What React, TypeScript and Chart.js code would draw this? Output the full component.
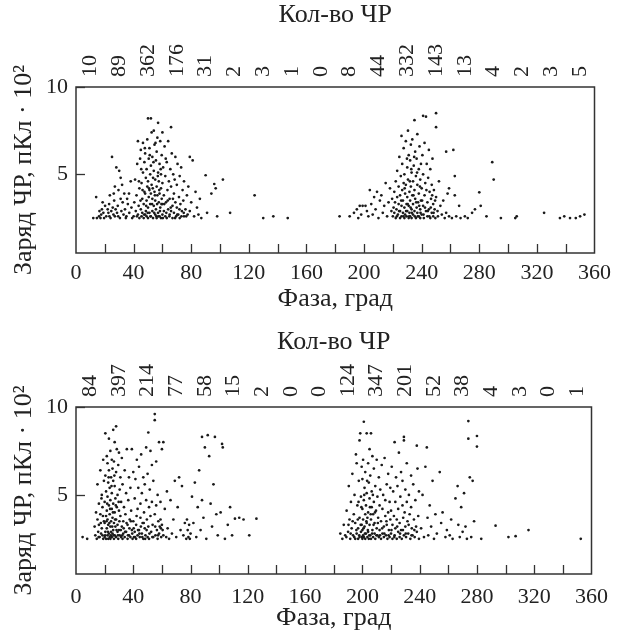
import React, { useEffect, useRef } from "react";
import { Chart, registerables } from "chart.js";

Chart.register(...registerables);

// ---------- data ----------
const phaseLabels = [0, 40, 80, 120, 160, 200, 240, 280, 320, 360];
const phaseMinorTicks = [20, 40, 60, 80, 100, 120, 140, 160, 180, 200, 220, 240, 260, 280, 300, 320, 340];
const chargeTicks = [5, 10];
const binWidth = 20;

const topCounts = [10, 89, 362, 176, 31, 2, 3, 1, 0, 8, 44, 332, 143, 13, 4, 2, 3, 5];
const bottomCounts = [84, 397, 214, 77, 58, 15, 2, 0, 0, 124, 347, 201, 52, 38, 4, 3, 0, 1];

const topLeftPoints: [number, number][] = [
  [12,2.5],[14,3.7],[14.5,2.5],[16,2.6],[17,2.5],[17.5,2.7],[18,3.0],[18.5,3.4],[19,2.8],[19.5,2.5],
  [21,2.6],[22,3.0],[22.5,2.8],[23,3.3],[23.5,3.8],[24,2.5],[24.5,2.9],[25,6.0],[25.5,3.1],[26,2.7],[26.5,3.5],[27,2.6],[27,4.3],[27.5,3.0],[28,5.4],[28.5,2.8],[29,3.2],[29.5,4.1],[30,5.2],[30.5,2.5],[31,3.6],[31,4.8],[31.5,2.9],[32,4.4],[33,2.7],[33.5,3.9],[34,3.0],[35,2.6],[35.5,3.6],[36,3.3],[37,2.8],[38,4.6],[38.5,3.1],[39,2.5],
  [40,2.6],[40.5,3.4],[41,4.7],[41.5,2.9],[42,3.8],[42.5,5.6],[43,6.9],[43,2.7],[43.5,3.2],[44,4.2],[44,2.5],[44.5,5.9],[45,3.0],[45,6.4],[45.5,2.6],[45.5,4.5],[46,3.6],[46,2.8],[46.5,5.1],[46.5,6.8],[47,2.5],[47,3.3],[47.5,4.0],[47.5,5.7],[48,2.7],[48,3.9],[48,6.2],[48.5,2.9],[48.5,4.8],[49,2.6],[49,3.5],[49,5.3],[49.5,4.3],[49.5,7.0],[50,8.2],[50,2.5],[50,3.1],[50,4.6],[50.5,5.9],[50.5,3.7],[51,2.8],[51,4.1],[51,6.5],[51.5,3.3],[51.5,5.0],[52,8.2],[52,2.6],[52,3.9],[52,5.5],[52.5,4.4],[52.5,7.4],[53,2.9],[53,3.6],[53,6.0],[53.5,4.8],[53.5,2.5],[54,7.5],[54,3.2],[54,5.2],[54.5,4.0],[54.5,6.7],[55,2.7],[55,3.5],[55,4.7],[55.5,5.8],[55.5,3.0],[56,2.5],[56,4.3],[56,6.3],[56.5,3.8],[56.5,7.1],[57,7.95],[57,2.8],[57,5.1],[57.5,3.4],[57.5,4.6],[58,2.6],[58,5.6],[58,3.9],[58.5,6.9],[58.5,3.1],[59,4.2],[59,2.5],[59,5.0],[59.5,3.6],[59.5,6.1],[60,7.4],[60,2.7],[60,4.5],[60,3.3],
  [60.5,5.4],[61,2.9],[61,3.8],[61.5,6.6],[62,2.6],[62,4.9],[62.5,3.4],[63,5.7],[63,2.5],[63.5,4.1],[64,3.0],[64,6.9],[64.5,4.6],[65,2.7],[65,3.6],[65.5,5.3],[66,7.7],[66,2.9],[66,4.3],[66.5,6.2],[67,3.2],[67,2.5],[67.5,5.0],[68,3.9],[68,2.8],[68.5,4.7],[69,3.4],[69,6.0],[69.5,2.6],[70,4.4],[70,3.1],[70.5,5.6],[71,2.7],[71.5,3.7],[72,4.9],[72,2.5],[72.5,3.3],[73,5.4],[73.5,2.9],[74,4.1],[74.5,3.5],[75,2.6],[75,4.6],[76,3.0],[77,3.8],[77.5,2.7],[78,4.3],[79,6.0],[79,2.9],
  [80,3.4],[81,5.8],[82,2.6],[83,4.0],[84,3.1],[85,2.7],[86,3.6],[87,2.5],[90,4.95],[91,2.8],[94,3.9],[96,4.45],[97,4.2],[98,2.6],
  [102,4.7],[107,2.8],[124,3.8],[130,2.5],[137,2.6],[147,2.5],
  // extra density in the main cloud
  [16.3,2.9],[20.2,3.2],[23.2,2.6],[26.2,3.9],[29.3,2.6],[32.4,3.4],[34.6,2.5],[36.8,3.9],[42.3,2.6],[43.7,4.6],[44.8,3.5],[46.2,4.1],[47.3,2.7],[48.7,3.2],[49.8,2.8],[50.7,4.2],[51.7,2.6],[52.8,3.3],[53.3,4.2],[54.3,2.8],[54.8,3.8],[55.8,2.6],[56.3,3.3],[57.2,2.6],[57.8,4.1],[58.3,2.9],[59.3,3.3],[60.3,2.5],[61.3,3.3],[62.7,2.8],[63.7,3.5],[64.8,2.6],[65.8,3.1],[67.3,3.6],[68.8,2.5],[70.3,2.7],[71.8,3.0],[73.2,2.6],[74.8,2.8],[76.5,2.6],[53.8,5.7],[51.2,6.1],[55.2,6.8],[58.8,5.3],[47.8,6.5],[62.3,5.9],[45.3,5.3],[56.8,4.9],
];

const topRightPoints: [number, number][] = [
  [183,2.6],[190,2.6],[193,2.8],[195,3.0],[196,2.5],[197,3.2],[198,2.7],[199,3.2],
  [201,3.2],[202,2.9],[203,2.6],[204,4.1],[205,3.3],[206,2.7],[207,3.7],[208,3.0],[209,4.0],[210,2.5],[211,3.5],[212,3.8],[213,2.8],[214,3.2],[215,4.5],[216,2.6],[217,3.4],[218,4.2],[219,2.9],[219.5,3.6],
  [220,2.6],[220.5,3.1],[221,2.8],[221,4.0],[221.5,3.4],[222,2.5],[222,4.6],[222.5,3.0],[223,3.7],[223,5.2],[223.5,2.7],[224,3.3],[224,4.3],[224.5,6.0],[225,2.5],[225,2.9],[225,3.8],[225.5,4.9],[226,7.2],[226,3.2],[226,2.6],[226.5,4.1],[226.5,5.6],[227,2.8],[227,3.5],[227.5,4.5],[227.5,6.5],[228,2.5],[228,3.1],[228,5.0],[228.5,3.9],[228.5,2.7],[229,4.4],[229,6.9],[229.5,3.3],[229.5,2.6],[230,5.4],[230,2.9],[230,3.7],[230.5,4.7],[230.5,7.5],[231,2.5],[231,3.2],[231,6.1],[231.5,4.0],[231.5,2.8],[232,5.8],[232,3.5],[232,2.6],[232.5,4.3],[232.5,6.7],[233,3.0],[233,2.5],[233,5.1],[233.5,3.8],[233.5,7.0],[234,2.7],[234,4.6],[234,3.3],[234.5,5.5],[235,8.1],[235,2.9],[235,4.1],[235.5,3.6],[235.5,6.3],[236,2.5],[236,4.9],[236.5,3.1],[236.5,5.9],[237,2.8],[237,4.4],[237,7.3],[237.5,3.4],[238,2.6],[238,5.3],[238,3.9],[238.5,6.6],[239,3.0],[239,4.7],[239,2.5],[239.5,5.6],[239.5,3.5],
  [240,2.7],[240,4.2],[240.5,6.1],[241,8.35],[241,3.2],[241,5.0],[241.5,2.5],[242,3.8],[242,6.8],[242.5,4.5],[243,8.3],[243,2.9],[243.5,5.6],[244,3.4],[244,2.6],[244.5,4.8],[245,6.4],[245,3.0],[245.5,4.0],[246,2.5],[246,5.3],[246.5,3.6],[247,4.4],[247,2.8],[247.5,5.9],[248,3.3],[248,2.6],[248.5,4.1],[249,3.0],[249.5,2.5],[250,8.5],[250,7.7],[250,3.7],[251,2.9],[252,4.6],[253,3.2],[254,2.7],[255,3.5],[256,2.5],[257,6.3],[257,2.8],[258,3.9],[259,2.6],[259,4.2],
  [261,2.5],[262,6.4],[263,4.9],[263,3.8],[264,2.6],[266,3.2],[267,2.5],[270,2.6],[272,2.5],[275,2.8],[277,3.0],[280,3.97],[281,3.2],
  [285,2.6],[289,5.7],[290,4.7],[295,2.5],[305,2.5],[306,2.6],[325,2.8],[336,2.5],[339,2.6],[343,2.5],[347,2.5],[350,2.6],[353,2.7],
  // extra density in the main cloud
  [222.8,2.6],[224.3,2.9],[225.8,3.5],[227.3,2.6],[228.2,4.2],[229.2,2.9],[230.3,3.3],[231.3,2.6],[232.3,3.1],[233.2,2.8],[234.3,3.8],[235.2,2.6],[236.2,3.4],[237.3,2.6],[238.3,3.2],[239.2,2.8],[240.3,3.5],[241.3,2.7],[242.3,3.1],[243.3,4.1],[244.3,2.9],[245.3,2.6],[246.3,3.1],[247.3,3.8],[248.3,2.8],[249.3,3.5],[251.3,2.6],[229.8,5.9],[232.8,5.3],[234.8,6.0],[236.8,5.1],[238.8,4.3],[231.8,4.6],
];

const bottomLeftPoints: [number, number][] = [
  [4.6,2.6],[7.8,2.5],[13,3.2],[13.5,2.7],[14,4.0],[14.5,2.5],[15,3.6],[15,5.6],[15.5,2.9],[16,4.5],[16,3.3],[16.5,2.6],[17,6.4],[17,3.9],[17.5,2.8],[17.8,4.8],[18,5.0],[18,3.1],[18.5,4.3],[18.5,2.7],[19,2.5],[19,7.0],[19.5,3.5],[19.5,5.8],
  [20,2.6],[20,3.4],[20,4.6],[20.5,8.5],[20.5,2.9],[20.5,6.1],[21,3.8],[21,2.5],[21,5.2],[21.5,7.2],[21.5,3.1],[21.5,4.1],[22,2.7],[22,6.8],[22,3.6],[22,4.9],[22.5,2.5],[22.5,5.7],[22.5,3.3],[23,8.2],[23,4.4],[23,2.8],[23,6.4],[23.5,3.9],[23.5,2.6],[23.5,5.4],[24,7.5],[24,3.2],[24,4.7],[24,2.5],[24.5,6.0],[24.5,3.5],[24.5,2.9],[25,4.2],[25,5.1],[25,2.6],[25,7.0],[25.5,3.7],[25.5,6.5],[25.5,2.8],[26,8.7],[26,4.5],[26,3.0],[26,5.8],[26.5,2.5],[26.5,3.4],[26.5,6.9],[27,4.0],[27,2.7],[27,5.5],[27,8.0],[27.5,3.2],[27.5,4.8],[28,8.9],[28,2.6],[28,6.3],[28,3.6],[28.5,7.6],[28.5,4.3],[29,2.9],[29,5.0],[29,3.3],[29.5,6.7],[29.5,2.5],[30,4.1],[30,3.0],[30,7.4],[30.5,5.3],[30.5,2.7],[31,3.8],[31,6.0],[31.5,2.6],[31.5,4.6],[32,3.2],[32,7.1],[32.5,2.5],[32.5,5.6],[33,3.5],[33,2.8],[33.5,4.3],[34,6.4],[34,2.6],[34.5,3.9],[35,2.9],[35,5.1],[35.5,7.6],[36,3.3],[36,2.5],[36.5,4.7],[37,6.0],[37,2.7],[37.5,3.6],[38,5.4],[38,2.6],[38.5,4.1],[39,3.0],[39,7.6],[39.5,2.5],
  [40,3.5],[40,6.3],[40.5,2.6],[41,4.8],[41,2.9],[41.5,5.9],[42,3.3],[42,2.5],[42.5,7.0],[43,4.2],[43,2.7],[43.5,5.4],[44,3.0],[44,6.6],[44.5,2.6],[45,4.5],[45,3.7],[45.5,7.3],[46,2.8],[46,5.1],[46.5,3.4],[47,6.0],[47,2.5],[47.5,4.0],[48,3.1],[48,5.6],[48.5,2.7],[49,4.7],[49,7.7],[49.5,3.6],[50,2.6],[50,6.2],[50.5,8.55],[50.5,3.2],[51,4.3],[51,2.5],[51.5,5.3],[52,3.8],[52,7.5],[52.5,2.9],[53,4.6],[53,6.7],[53.5,3.3],[54,2.6],[54,5.8],[55,9.6],[55,9.25],[55,3.9],[55.5,2.7],[56,4.4],[56,6.9],[56.5,3.0],[57,2.5],[57,5.0],[57.5,3.5],[58,8.0],[58,2.8],[58.5,3.2],[59,3.6],[59,4.6],[59.5,2.6],[60,3.3],[60,7.6],
  [60.5,3.0],[61,8.0],[61,2.7],[62,4.2],[63,2.6],[63.5,5.2],[64,3.1],[65,2.5],[66,4.7],[67,2.8],[68,3.6],[69,5.8],[70,2.6],[71,4.3],[72,6.0],[73,3.0],[74,5.5],[75,2.7],[76,3.4],[77,2.5],[77.5,3.6],[78,3.0],[78.5,2.6],[79,3.3],[79.5,2.5],
  [80,2.8],[81,4.9],[82,3.4],[83,5.7],[84,2.6],[85,4.3],[86,6.4],[87,3.0],[88,8.3],[88,4.7],[89,3.7],[90,7.7],[91,2.5],[92,8.4],[93,7.2],[94,4.5],[95,3.2],[96,5.6],[97,8.3],[98,3.9],[99,2.7],
  [101,4.0],[102,7.9],[102.5,7.7],[104,2.5],[106,3.3],[107.6,4.3],[109,2.7],[111,3.65],[114,3.7],[117,3.6],[121,2.7],[126,3.65],
  // extra density in the main cloud
  [15.8,2.6],[17.3,3.4],[18.8,3.8],[20.3,2.7],[21.3,3.5],[22.3,2.9],[23.3,3.4],[24.3,2.7],[25.3,3.2],[26.3,2.7],[27.3,3.6],[28.3,3.0],[29.3,2.7],[30.3,3.5],[31.3,3.0],[32.3,2.7],[33.3,3.1],[34.3,2.9],[35.3,3.4],[36.3,2.7],[37.3,3.1],[38.3,3.5],[39.3,2.8],[40.3,3.1],[41.3,2.6],[42.3,3.8],[43.3,3.0],[44.3,2.8],[45.3,3.2],[46.3,2.6],[47.3,3.4],[48.3,2.5],[49.3,3.0],[51.3,2.8],[53.3,2.6],[55.3,3.2],[57.3,2.7],[59.3,3.1],[21.8,4.5],[23.8,4.2],[25.8,4.0],[27.8,4.4],[24.8,5.5],[26.8,6.1],[22.8,6.0],[29.8,4.6],
];

const bottomRightPoints: [number, number][] = [
  [184.6,2.8],[186,2.5],[187,3.3],[188,2.7],[189,4.1],[190,2.9],[190.5,5.5],[191,3.6],[191.5,2.5],[192,4.6],[192.5,3.1],[193,6.2],[193.5,2.7],[194,3.9],[194.5,5.0],[195,2.5],[195,3.4],[195.5,7.3],[196,2.8],[196,6.8],[196.5,4.4],[197,3.1],[197,2.5],[197.5,5.8],[198,8.1],[198,2.6],[198,3.7],[198.5,8.5],[199,4.9],[199,2.9],[199.5,6.6],[199.5,3.3],
  [200,2.5],[200,3.0],[200,4.2],[200,5.9],[200.5,2.7],[200.5,3.6],[200.5,7.0],[201,9.16],[201,2.6],[201,4.7],[201.5,3.2],[201.5,5.4],[202,2.5],[202,3.9],[202,6.3],[202.5,2.8],[202.5,4.4],[203,3.4],[203,8.5],[203,5.1],[203.5,2.6],[203.5,3.7],[204,6.8],[204,2.9],[204,4.0],[204.5,5.7],[204.5,2.5],[205,3.3],[205,4.8],[205,7.6],[205.5,2.7],[205.5,6.1],[206,8.5],[206,3.6],[206,2.5],[206.5,4.3],[206.5,5.2],[207,3.0],[207,7.2],[207.5,2.6],[207.5,3.9],[208,6.5],[208,4.6],[208.5,2.8],[208.5,3.4],[209,5.5],[209,2.5],[209.5,4.1],[210,3.1],[210,7.0],[210.5,2.7],[210.5,4.9],[211,3.7],[211.5,2.6],[211.5,6.0],[212,4.4],[212,3.0],[212.5,5.3],[213,2.5],[213,3.5],[213.5,6.7],[214,2.8],[214,4.2],[214.5,5.0],[215,3.2],[215,2.6],[215.5,7.1],[216,3.8],[216,4.7],[216.5,2.7],[217,5.6],[217,3.3],[217.5,2.5],[218,4.0],[218,6.2],[218.5,3.0],[219,2.6],[219,4.6],[219.5,3.6],[219.5,5.4],
  [220,2.8],[220,4.1],[220.5,6.6],[221,3.3],[221,2.5],[221.5,5.2],[222,3.8],[222.5,8.0],[222.5,2.7],[223,4.6],[223,3.1],[223.5,6.0],[224,2.5],[224,3.6],[224.5,5.5],[225,4.2],[225,2.9],[225.5,7.4],[226,3.4],[226,2.6],[226.5,4.9],[227,6.3],[227,3.0],[227.5,2.5],[228,4.4],[228,5.8],[228.5,3.7],[229,8.3],[229,8.1],[229,2.7],[229.5,4.0],[230,5.3],[230,3.2],[230.5,2.6],[231,6.8],[231,4.6],[231.5,3.5],[232,2.8],[232.5,5.0],[233,3.9],[233.5,2.5],[234,6.1],[234,4.3],[234.5,3.1],[235,2.7],[235.5,5.6],[236,3.6],[236.5,2.6],[237,4.7],[237.5,3.2],[238,7.8],[238,2.9],[238.5,6.5],[239,3.8],[239.5,2.5],[239.5,5.2],
  [241,3.1],[242,5.0],[243,2.6],[244,6.6],[245,7.7],[245.5,3.7],[246,2.7],[247,4.4],[248,3.2],[249,5.8],[250,2.5],[251,3.9],[252,2.8],[254,6.3],[255,3.4],[256,4.0],[258,2.6],[259,3.0],
  [261,2.7],[262,3.6],[263,2.5],[265,4.8],[266.5,5.5],[267,3.3],[268,2.6],[269,4.3],[270,2.9],[271,5.1],[272,3.2],[273,2.5],[274,9.2],[274,8.2],[275,6.0],[276,2.6],[277,5.8],[278,3.5],
  [280,8.35],[280,7.75],[283,2.5],[293,3.25],[302,2.6],[307,2.65],[316,3.0],[352.5,2.5],
  // extra density in the main cloud
  [188.8,2.6],[190.3,3.3],[191.8,2.8],[193.2,3.5],[194.3,2.6],[195.8,3.0],[196.8,3.6],[197.8,2.7],[198.8,3.3],[199.8,2.6],[200.8,3.1],[201.8,2.8],[202.8,3.5],[203.8,3.0],[204.8,2.7],[205.8,3.9],[206.8,2.8],[207.8,3.3],[208.8,4.0],[209.8,2.7],[210.8,3.4],[212.3,2.7],[213.8,3.1],[215.3,2.8],[216.8,3.5],[218.3,2.7],[220.3,3.0],[222.3,2.6],[224.3,3.2],[226.3,2.8],[228.3,3.0],[230.3,2.8],[232.3,3.3],[234.3,2.7],[236.3,3.0],[201.3,5.0],[203.3,5.8],[205.3,4.3],[207.3,5.0],[199.3,4.3],[197.3,4.6],
];

const countTitle = "Кол-во ЧР";
const xTitle = "Фаза, град";
const yTitle = "Заряд ЧР, пКл · 10²";

// ---------- chart ----------
const FONT = '"Liberation Serif", "Times New Roman", Times, serif';
const INK = "#222";
const FONT_SIZE = 22;
const TITLE_SIZE = 26;
const LINE_HEIGHT = 1.2;

const decorPlugin = {
  id: "decor",
  afterDraw(chart: any, _args: any, opts: any) {
    const { ctx, chartArea } = chart;
    const { left, right, top, bottom } = chartArea;
    const xs = chart.scales.x;
    const ys = chart.scales.y;
    ctx.save();
    ctx.strokeStyle = "#333";
    ctx.lineWidth = 1.5;
    ctx.strokeRect(left, top, right - left, bottom - top);
    ctx.lineWidth = 1.3;
    phaseMinorTicks.forEach((v) => {
      const px = Math.round(xs.getPixelForValue(v)) + 0.5;
      ctx.beginPath();
      ctx.moveTo(px, bottom);
      ctx.lineTo(px, bottom - 9);
      ctx.stroke();
    });
    chargeTicks.forEach((v) => {
      const py = Math.round(ys.getPixelForValue(v)) + 0.5;
      ctx.beginPath();
      ctx.moveTo(left, py);
      ctx.lineTo(left + 9, py);
      ctx.stroke();
    });
    ctx.fillStyle = INK;
    ctx.font = `${TITLE_SIZE}px ${FONT}`;
    ctx.textAlign = "center";
    ctx.textBaseline = "middle";
    const cx = (left + right) / 2;
    ctx.fillText(countTitle, cx, opts.countTitleY);
    ctx.fillText(xTitle, cx, opts.xTitleY);
    ctx.translate(opts.yTitleX, (top + bottom) / 2);
    ctx.rotate(-Math.PI / 2);
    ctx.fillText(yTitle, 0, 0);
    ctx.restore();
  },
};

type Panel = {
  points: [number, number][];
  counts: number[];
  topH: number;
  bottomH: number;
  tickPad: number;
  countTitleY: number;
  xTitleY: number;
};

function makeConfig(p: Panel): any {
  const font = { family: FONT, size: FONT_SIZE, lineHeight: LINE_HEIGHT };
  return {
    type: "scatter",
    data: {
      datasets: [
        {
          data: p.points.map(([x, y]) => ({ x, y })),
          pointRadius: 1.35,
          pointBorderWidth: 0,
          pointBackgroundColor: "#1a1a1a",
          pointHoverRadius: 1.35,
        },
      ],
    },
    options: {
      animation: false,
      responsive: false,
      maintainAspectRatio: false,
      events: [],
      layout: { padding: { left: 0, right: 21, top: 0, bottom: 0 } },
      plugins: {
        legend: { display: false },
        tooltip: { enabled: false },
        decor: { countTitleY: p.countTitleY, xTitleY: p.xTitleY, yTitleX: 24 },
      },
      scales: {
        x: {
          type: "linear",
          position: "bottom",
          min: 0,
          max: 360,
          afterBuildTicks: (s: any) => {
            s.ticks = phaseLabels.map((v) => ({ value: v }));
          },
          ticks: { font, color: INK, padding: p.tickPad, maxRotation: 0, autoSkip: false },
          grid: { display: false, drawTicks: false },
          border: { display: false },
          afterFit: (s: any) => {
            s.height = p.bottomH;
          },
        },
        x2: {
          type: "linear",
          position: "top",
          min: 0,
          max: 360,
          afterBuildTicks: (s: any) => {
            s.ticks = p.counts.map((_c, i) => ({ value: i * binWidth + binWidth / 2 }));
          },
          ticks: {
            font,
            color: INK,
            padding: 10,
            minRotation: 90,
            maxRotation: 90,
            autoSkip: false,
            labelOffset: FONT_SIZE * LINE_HEIGHT,
            callback: (_v: any, i: number) => String(p.counts[i]),
          },
          grid: { display: false, drawTicks: false },
          border: { display: false },
          afterFit: (s: any) => {
            s.height = p.topH;
          },
        },
        y: {
          type: "linear",
          min: 0.5,
          max: 10,
          afterBuildTicks: (s: any) => {
            s.ticks = chargeTicks.map((v) => ({ value: v }));
          },
          ticks: { font, color: INK, padding: 8 },
          grid: { display: false, drawTicks: false },
          border: { display: false },
          afterFit: (s: any) => {
            s.width = 76;
          },
        },
      },
    },
    plugins: [decorPlugin],
  };
}

function PanelChart({ panel, top, height }: { panel: Panel; top: number; height: number }) {
  const ref = useRef<HTMLCanvasElement | null>(null);
  useEffect(() => {
    if (!ref.current) return;
    const chart = new Chart(ref.current, makeConfig(panel));
    let alive = true;
    const fonts: any = (document as any).fonts;
    if (fonts && fonts.load) {
      fonts
        .load(`${FONT_SIZE}px "Liberation Serif"`)
        .then(() => {
          if (alive) chart.update();
        })
        .catch(() => {});
    }
    return () => {
      alive = false;
      chart.destroy();
    };
  }, [panel]);
  return (
    <div style={{ position: "absolute", left: 0, top, width: 618, height }}>
      <canvas ref={ref} width={618} height={height} style={{ display: "block", width: 618, height }} />
    </div>
  );
}

const topPanel: Panel = {
  points: [...topLeftPoints, ...topRightPoints],
  counts: topCounts,
  topH: 87,
  bottomH: 63,
  tickPad: 7,
  countTitleY: 15,
  xTitleY: 299,
};

const bottomPanel: Panel = {
  points: [...bottomLeftPoints, ...bottomRightPoints],
  counts: bottomCounts,
  topH: 91,
  bottomH: 57,
  tickPad: 10,
  countTitleY: 26,
  xTitleY: 302,
};

export default function App() {
  return (
    <div
      style={{
        position: "absolute",
        left: 0,
        top: 0,
        width: 618,
        height: 631,
        background: "#fff",
        fontFamily: FONT,
      }}
    >
      <PanelChart panel={topPanel} top={0} height={316} />
      <PanelChart panel={bottomPanel} top={316} height={315} />
    </div>
  );
}
